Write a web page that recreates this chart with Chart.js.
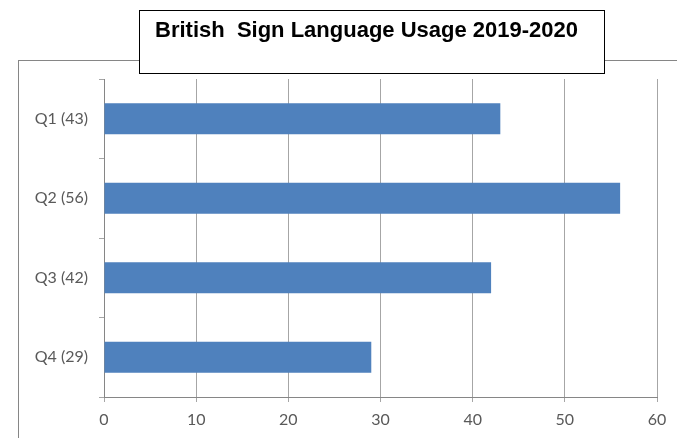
<!DOCTYPE html>
<html>
<head>
<meta charset="utf-8">
<script src="https://cdn.jsdelivr.net/npm/chart.js@4"></script>
<style>
  html, body { margin: 0; padding: 0; background: #ffffff; }
  #wrap { width: 677px; height: 438px; position: relative; }
</style>
</head>
<body>
<div id="wrap"><canvas id="c" width="677" height="438"></canvas></div>
<script>
// Quarterly usage counts
const titleText = 'British  Sign Language Usage 2019-2020';
const categories = ['Q1 (43)', 'Q2 (56)', 'Q3 (42)', 'Q4 (29)'];
const usage = [43, 56, 42, 29];
const xTicks = [0, 10, 20, 30, 40, 50, 60];

const labelFont = { family: 'Lato, "Open Sans", sans-serif', size: 16 };

// Outer frame behind the plot and the boxed title on top of it
const framePlugin = {
  id: 'frame',
  beforeDraw(chart) {
    const ctx = chart.ctx;
    ctx.save();
    ctx.fillStyle = '#ffffff';
    ctx.fillRect(0, 0, chart.width, chart.height);
    ctx.strokeStyle = '#868686';
    ctx.lineWidth = 1;
    ctx.strokeRect(18.5, 60.5, chart.width + 20, chart.height + 20);
    ctx.restore();
  },
  afterDraw(chart) {
    const ctx = chart.ctx;
    ctx.save();
    ctx.fillStyle = '#ffffff';
    ctx.fillRect(139.5, 10.5, 465, 63);
    ctx.strokeStyle = '#000000';
    ctx.lineWidth = 1;
    ctx.strokeRect(139.5, 10.5, 465, 63);
    ctx.fillStyle = '#000000';
    ctx.font = 'bold 22px "Liberation Sans", Arial, sans-serif';
    ctx.textBaseline = 'alphabetic';
    ctx.textAlign = 'left';
    ctx.fillText(titleText, 155, 37);
    ctx.restore();
  }
};

new Chart(document.getElementById('c'), {
  type: 'bar',
  data: {
    labels: categories,
    datasets: [{
      data: usage,
      backgroundColor: '#4f81bd',
      borderWidth: 0,
      categoryPercentage: 1,
      barPercentage: 0.39
    }]
  },
  options: {
    indexAxis: 'y',
    responsive: false,
    animation: false,
    devicePixelRatio: 1,
    layout: { padding: { left: 0, top: 79, right: 20, bottom: 0 } },
    plugins: {
      legend: { display: false },
      title: { display: false },
      tooltip: { enabled: false }
    },
    scales: {
      x: {
        min: 0,
        max: 60,
        afterBuildTicks(scale) { scale.ticks = xTicks.map(v => ({ value: v })); },
        afterFit(scale) { scale.height = 41; },
        ticks: { color: '#595959', font: labelFont, padding: 8 },
        grid: { color: '#a6a6a6', tickLength: 5, drawTicks: true },
        border: { color: '#868686' }
      },
      y: {
        afterFit(scale) { scale.width = 104; },
        ticks: { color: '#595959', font: labelFont, padding: 11 },
        grid: { offset: true, drawOnChartArea: false, drawTicks: true, tickLength: 5, color: '#a6a6a6' },
        border: { color: '#868686' }
      }
    }
  },
  plugins: [framePlugin]
});
</script>
</body>
</html>
